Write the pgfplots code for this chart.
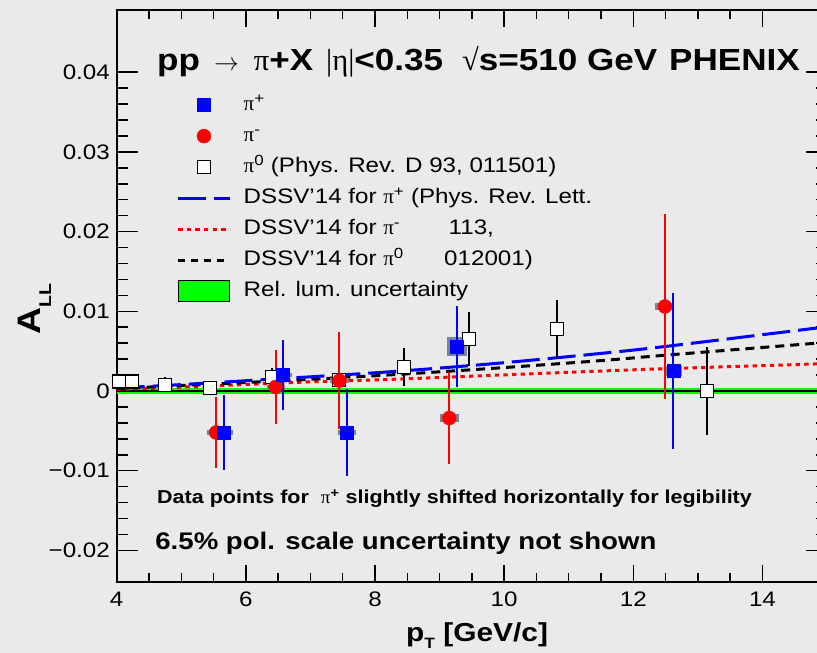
\documentclass[border=0pt]{standalone}
\usepackage{fontspec}
\setmainfont{Liberation Sans}[FakeStretch=1.15]
\newfontfamily\symf{Liberation Serif}
\usepackage{pgfplots}
\usepackage{pgfplotstable}
\pgfplotsset{compat=1.18}
\definecolor{bg}{RGB}{234,234,234}
\definecolor{sysg}{RGB}{118,134,150}
\definecolor{lgreen}{RGB}{0,255,0}
\newcommand{\sy}[1]{{\symf\mdseries #1}}
\pgfplotsset{
  legmark/.style={legend image code/.code={\draw[mark repeat=2,mark phase=2,##1] plot coordinates {(0pt,0pt)(25.8pt,0pt)(51.6pt,0pt)};}},
  legline/.style={legend image code/.code={\draw[##1] (0pt,0pt) -- (51.6pt,0pt);}},
  legbox/.style={legend image code/.code={\draw[##1] (0pt,-10.3pt) rectangle (51.6pt,10.3pt);}},
}

\pgfplotstableread{
x p m z
4 0.0004 0.0002 0.0003
4.77 0.0007 0.0004 0.0006
6.84 0.0017 0.0011 0.0014
8.39 0.0025 0.0015 0.0021
9.93 0.0035 0.0020 0.0029
11.48 0.0047 0.0025 0.0038
12.51 0.0056 0.0028 0.0045
14.84 0.0079 0.0034 0.0060
15 0.0081 0.0035 0.0061
}\theory

\pgfplotstableread{
x y e
4.03 0.0012 0.0005
4.24 0.0012 0.0006
4.75 0.0008 0.0009
5.45 0.0004 0.0008
6.40 0.0018 0.0011
7.44 0.0014 0.0017
8.45 0.0030 0.0024
9.45 0.0065 0.0034
10.82 0.0078 0.0036
13.14 0.0000 0.0055
}\pizero

\pgfplotstableread{
x y e
5.54 -0.0052 0.0045
6.46 0.0005 0.0046
7.45 0.0013 0.0061
9.15 -0.0034 0.0058
12.49 0.0106 0.0116
}\piminus

\pgfplotstableread{
x y e
5.66 -0.0052 0.0047
6.57 0.0020 0.0044
7.56 -0.0052 0.0055
9.27 0.0056 0.0051
12.62 0.0025 0.0098
}\piplus

\begin{document}
\begin{tikzpicture}[x=1pt,y=1pt]
\fill[bg] (0,0) rectangle (817,653);
\begin{axis}[
 at={(116.7pt,70.7pt)}, anchor=south west, scale only axis,
 width=710.3pt, height=572.3pt,
 xmin=4, xmax=15, ymin=-0.0240, ymax=0.0478,
 axis line style={line width=2pt},
 xtick={4,6,8,10,12,14}, xticklabels={4,6,8,10,12,14},
 ytick={-0.02,-0.01,0,0.01,0.02,0.03,0.04},
 yticklabels={−0.02,−0.01,0,0.01,0.02,0.03,0.04},
 minor x tick num=3, minor y tick num=4,
 tick align=inside,
 every tick/.append style={black, line width=1.5pt},
 xtick style={/pgfplots/major tick length=17pt,/pgfplots/minor tick length=9pt},
 ytick style={/pgfplots/major tick length=21pt,/pgfplots/minor tick length=11pt},
 ticklabel style={font=\fontsize{21}{21}\selectfont, inner sep=0pt},
 xticklabel style={yshift=-9.4pt},
 yticklabel style={xshift=-6.7pt},
 scaled y ticks=false,
 legend cell align=left,
 legend style={draw=none, fill=none, at={(0.0845,0.853)}, anchor=north west,
   inner sep=0pt, outer sep=0pt, column sep=12.4pt, row sep=9pt,
   font=\fontsize{21}{21}\selectfont,
   nodes={inner sep=0pt, text height=16.8pt, text depth=5.2pt}},
]
% rel. lum. band
\addplot[draw=none, fill=lgreen, forget plot] coordinates {(4,-0.0004) (15,-0.0004) (15,0.0004) (4,0.0004)};
\addplot[black, line width=1.2pt, forget plot] coordinates {(4,0) (15,0)};
% theory curves
\addplot[red, line width=3pt, dash pattern=on 4.3pt off 4.3pt, smooth, forget plot] table[x=x,y=m] {\theory};
\addplot[black, line width=3pt, dash pattern=on 9pt off 6pt, smooth, forget plot] table[x=x,y=z] {\theory};
\addplot[blue, line width=3pt, dash pattern=on 28pt off 8pt, smooth, forget plot] table[x=x,y=p] {\theory};
% pi0
\addplot[forget plot, only marks, mark=square*, mark size=6.5pt,
  mark options={fill=white, draw=black, line width=1.2pt},
  error bars/.cd, y dir=both, y explicit, error mark=none,
  error bar style={black, line width=2pt}]
  table[x=x, y=y, y error=e] {\pizero};
% systematic boxes
\addplot[forget plot, draw=none, fill=sysg] coordinates {(5.40,-0.0055) (5.68,-0.0055) (5.68,-0.0049) (5.40,-0.0049)};
\addplot[forget plot, draw=none, fill=sysg] coordinates {(5.52,-0.0055) (5.80,-0.0055) (5.80,-0.0049) (5.52,-0.0049)};
\addplot[forget plot, draw=none, fill=sysg] coordinates {(6.32,0.0003) (6.60,0.0003) (6.60,0.0007) (6.32,0.0007)};
\addplot[forget plot, draw=none, fill=sysg] coordinates {(6.44,0.0017) (6.71,0.0017) (6.71,0.0023) (6.44,0.0023)};
\addplot[forget plot, draw=none, fill=sysg] coordinates {(7.31,0.0010) (7.59,0.0010) (7.59,0.0016) (7.31,0.0016)};
\addplot[forget plot, draw=none, fill=sysg] coordinates {(7.43,-0.0055) (7.70,-0.0055) (7.70,-0.0049) (7.43,-0.0049)};
\addplot[forget plot, draw=none, fill=sysg] coordinates {(9.01,-0.0039) (9.30,-0.0039) (9.30,-0.0029) (9.01,-0.0029)};
\addplot[forget plot, draw=none, fill=sysg] coordinates {(9.12,0.0044) (9.42,0.0044) (9.42,0.0068) (9.12,0.0068)};
\addplot[forget plot, draw=none, fill=sysg] coordinates {(12.34,0.0101) (12.60,0.0101) (12.60,0.0111) (12.34,0.0111)};
\addplot[forget plot, draw=none, fill=sysg] coordinates {(12.49,0.0019) (12.76,0.0019) (12.76,0.0031) (12.49,0.0031)};
% pi-
\addplot[forget plot, only marks, mark=*, mark size=7pt, color=red,
  error bars/.cd, y dir=both, y explicit, error mark=none,
  error bar style={red, line width=2pt}]
  table[x=x, y=y, y error=e] {\piminus};
% pi+
\addplot[forget plot, only marks, mark=square*, mark size=6.5pt, color=blue,
  error bars/.cd, y dir=both, y explicit, error mark=none,
  error bar style={blue, line width=2pt}]
  table[x=x, y=y, y error=e] {\piplus};
% legend
\addlegendimage{legmark, only marks, mark=square*, mark size=6.5pt, blue}
\addlegendentry{\sy{π}\textsuperscript{+}}
\addlegendimage{legmark, only marks, mark=*, mark size=7pt, red}
\addlegendentry{\sy{π}\textsuperscript{-}}
\addlegendimage{legmark, only marks, mark=square*, mark size=6.5pt, mark options={fill=white, draw=black, line width=1.2pt}}
\addlegendentry{\sy{π}\textsuperscript{0} (Phys. Rev. D 93, 011501)}
\addlegendimage{legline, blue, line width=3pt, dash pattern=on 28pt off 8pt}
\addlegendentry{DSSV’14 for \sy{π}\textsuperscript{+} (Phys. Rev. Lett.}
\addlegendimage{legline, red, line width=3pt, dash pattern=on 4.3pt off 4.3pt}
\addlegendentry{\makebox[205pt][l]{DSSV’14 for \sy{π}\textsuperscript{-}}113,}
\addlegendimage{legline, black, line width=3pt, dash pattern=on 7pt off 6pt}
\addlegendentry{\makebox[200.5pt][l]{DSSV’14 for \sy{π}\textsuperscript{0}}012001)}
\addlegendimage{legbox, fill=lgreen, draw=black, line width=1pt}
\addlegendentry{Rel. lum. uncertainty}
\end{axis}
% title and notes
\node[anchor=base west, inner sep=0pt] at (157,582.3)
  {\fontsize{30.5}{31}\selectfont\bfseries pp\hspace{14pt}$\rightarrow$\hspace{15pt}\sy{π}+X\hspace{13pt}\sy{|η|}<0.35\hspace{19pt}\sy{√}s=510 GeV\hspace{12pt}PHENIX};
\node[anchor=base west, inner sep=0pt] at (157,149)
  {\fontsize{18.7}{19}\selectfont\bfseries Data points for \ \sy{π}\textsuperscript{+} slightly shifted horizontally for legibility};
\node[anchor=base west, inner sep=0pt] at (155.2,103)
  {\fontsize{24}{24}\selectfont\bfseries 6.5\% pol. scale uncertainty not shown};
% axis titles
\node[rotate=90, anchor=base west, inner sep=0pt] at (40,318)
  {\fontsize{32.5}{33}\selectfont\bfseries A\raisebox{-11pt}{\fontsize{17}{17}\selectfont LL}};
\node[anchor=base west, inner sep=0pt] at (406,11.3)
  {\fontsize{26}{26}\selectfont\bfseries p\raisebox{-7pt}{\fontsize{15}{15}\selectfont T} [GeV/c]};
\pgfresetboundingbox
\useasboundingbox (0,0) rectangle (817,653);
\end{tikzpicture}
\end{document}
